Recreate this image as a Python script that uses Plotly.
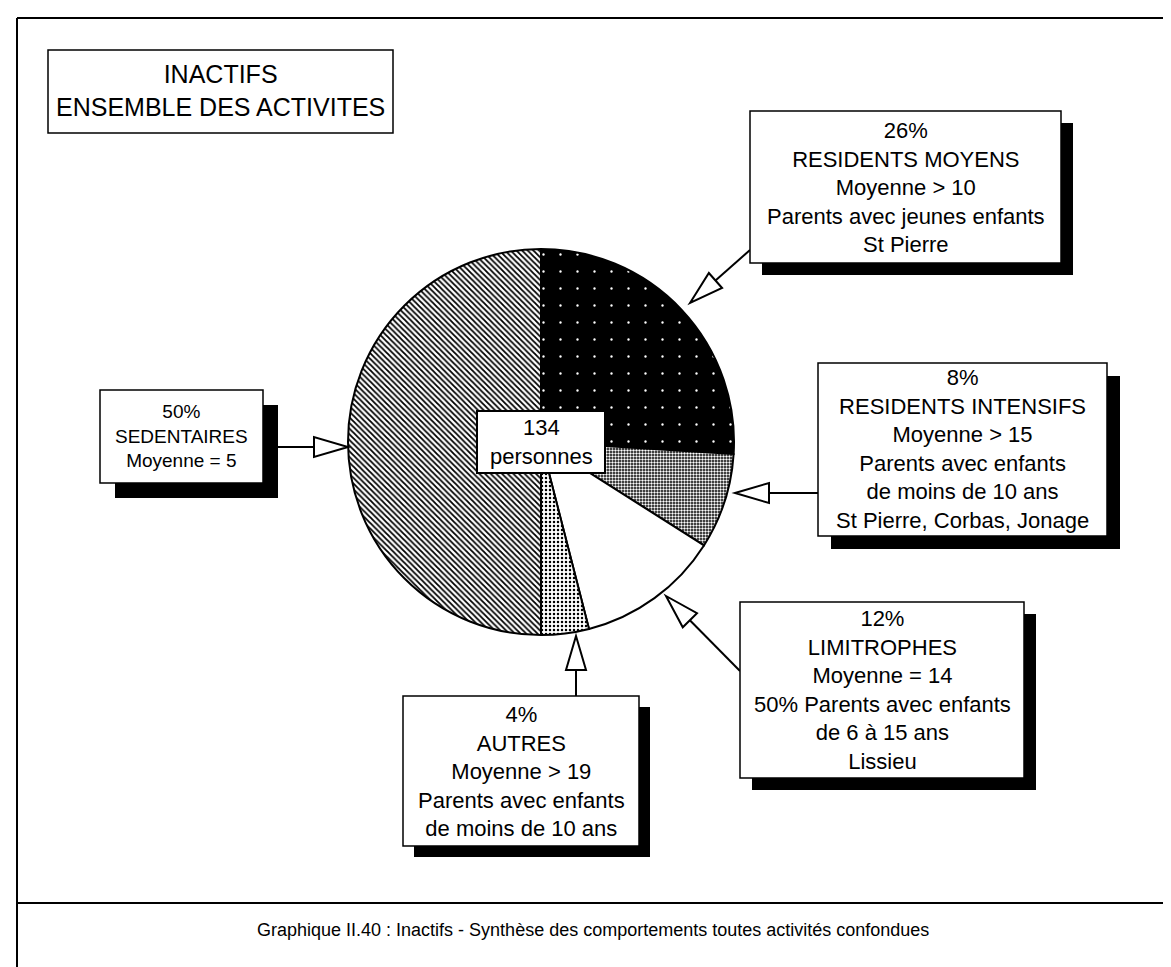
import plotly.graph_objects as go

# === données ===
segments = ["RESIDENTS MOYENS", "RESIDENTS INTENSIFS", "LIMITROPHES", "AUTRES", "SEDENTAIRES"]
shares = [26, 8, 12, 4, 50]
details = [
    ["Moyenne > 10", "Parents avec jeunes enfants", "St Pierre"],
    ["Moyenne > 15", "Parents avec enfants", "de moins de 10 ans", "St Pierre, Corbas, Jonage"],
    ["Moyenne = 14", "50% Parents avec enfants", "de 6 à 15 ans", "Lissieu"],
    ["Moyenne > 19", "Parents avec enfants", "de moins de 10 ans"],
    ["Moyenne = 5"],
]
total_people = 134
title_lines = ["INACTIFS", "ENSEMBLE DES ACTIVITES"]
caption = "Graphique II.40 : Inactifs - Synthèse des comportements toutes activités confondues"

W, H = 1171, 967
FONT = "Liberation Sans, Arial, Helvetica, sans-serif"


def px(x):
    return x / W


def py(y):
    return 1 - y / H


# motifs des secteurs (scan noir et blanc)
patterns = [
    dict(shape=".", bgcolor="black", fgcolor="white", size=17, solidity=0.015),
    dict(shape=".", bgcolor="black", fgcolor="white", size=3, solidity=0.5),
    dict(shape="", bgcolor="white", fgcolor="white"),
    dict(shape=".", bgcolor="white", fgcolor="black", size=4, solidity=0.3),
    dict(shape="\\", bgcolor="white", fgcolor="black", size=4, solidity=0.45),
]

# centre du camembert et rayon en pixels
cx, cy, r = 533, 434, 193

fig = go.Figure(go.Pie(
    labels=segments,
    values=shares,
    sort=False,
    direction="clockwise",
    rotation=0,
    textinfo="none",
    hoverinfo="label+percent",
    marker=dict(
        colors=["black", "black", "white", "white", "white"],
        line=dict(color="black", width=2),
        pattern=dict(
            shape=[p["shape"] for p in patterns],
            bgcolor=[p["bgcolor"] for p in patterns],
            fgcolor=[p["fgcolor"] for p in patterns],
            size=[p.get("size", 6) for p in patterns],
            solidity=[p.get("solidity", 0.3) for p in patterns],
            fillmode="replace",
        ),
    ),
    domain=dict(x=[px(cx - r), px(cx + r)], y=[py(cy + r), py(cy - r)]),
    showlegend=False,
))

shapes = []
annotations = []


def rect(x0, y0, x1, y1, fill="white", width=1.5):
    shapes.append(dict(type="rect", xref="paper", yref="paper",
                       x0=px(x0), x1=px(x1), y0=py(y1), y1=py(y0),
                       fillcolor=fill, line=dict(color="black", width=width)))


def line(x0, y0, x1, y1, width=1.5):
    shapes.append(dict(type="line", xref="paper", yref="paper",
                       x0=px(x0), x1=px(x1), y0=py(y0), y1=py(y1),
                       line=dict(color="black", width=width)))


def arrow(xs, ys, xt, yt, head=34, half=10):
    dx, dy = xt - xs, yt - ys
    d = (dx ** 2 + dy ** 2) ** 0.5
    ux, uy = dx / d, dy / d
    bx, by = xt - ux * head, yt - uy * head
    line(xs, ys, bx, by, width=2)
    p1 = (bx - uy * half, by + ux * half)
    p2 = (bx + uy * half, by - ux * half)
    path = "M {} {} L {} {} L {} {} Z".format(
        px(xt), py(yt), px(p1[0]), py(p1[1]), px(p2[0]), py(p2[1]))
    shapes.append(dict(type="path", xref="paper", yref="paper", path=path,
                       fillcolor="white", line=dict(color="black", width=2)))


def text(x, y, s, size=22):
    annotations.append(dict(xref="paper", yref="paper", x=px(x), y=py(y),
                            text=s, showarrow=False, xanchor="center", yanchor="middle",
                            font=dict(family=FONT, size=size, color="black")))


# cadre général
line(9, 10, W, 10, width=2)
line(9, 10, 9, H, width=2)
line(9, 895, W, 895, width=2)
text(585, 922, caption, size=18)

# titre
rect(40, 42, 385, 125)
text(212, 82, "<br>".join(title_lines), size=25)

# boîtes des groupes (x0, y0, x1, y1, ombre, taille police)
boxes = [
    (742, 103, 1053, 255, 12, 22),
    (810, 355, 1099, 528, 13, 22),
    (732, 594, 1016, 770, 12, 22),
    (395, 688, 631, 838, 11, 22),
    (92, 382, 255, 475, 15, 19),
]
arrows = [
    (742, 242, 682, 295),
    (810, 485, 727, 485),
    (732, 663, 658, 588),
    (568, 688, 568, 628),
    (255, 439, 340, 439),
]

for seg, share, det, b, a in zip(segments, shares, details, boxes, arrows):
    x0, y0, x1, y1, sh, fs = b
    arrow(*a)
    rect(x0 + sh, y0 + sh, x1 + sh, y1 + sh, fill="black", width=0)
    rect(x0, y0, x1, y1)
    text((x0 + x1) / 2, (y0 + y1) / 2, "<br>".join([f"{share}%", seg] + det), size=fs)

# effectif au centre
rect(469, 403, 597, 465, width=2)
text(533, 434, f"{total_people}<br>personnes", size=22)

fig.update_layout(
    width=W, height=H,
    margin=dict(l=0, r=0, t=0, b=0),
    paper_bgcolor="white",
    plot_bgcolor="white",
    shapes=shapes,
    annotations=annotations,
)

fig.write_html("out.html")
